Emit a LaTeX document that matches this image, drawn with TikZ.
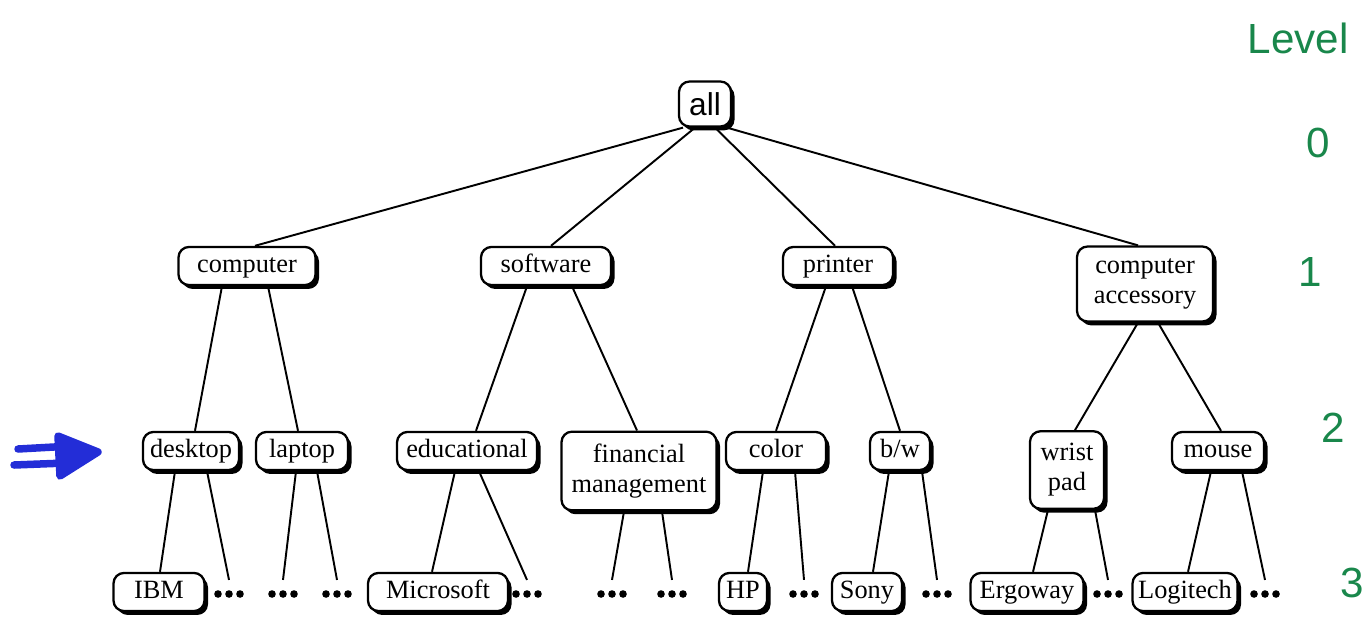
\documentclass[tikz,border=0pt]{standalone}
\usepackage{fontspec}
\setmainfont{Liberation Serif}
\newfontfamily\allfont{Liberation Sans}
\usepackage{tikz}
\usetikzlibrary{shadows}
\definecolor{pengreen}{RGB}{25,135,75}
\definecolor{penblue}{RGB}{35,45,215}
\tikzset{
  cat/.style={draw, line width=1.3pt, rounded corners=6pt, fill=white, align=center,
    font=\fontsize{15}{17}\selectfont, inner xsep=2pt, inner ysep=4pt,
    minimum height=0.76cm, text height=10.5pt, text depth=3.2pt,
    drop shadow={shadow xshift=2pt, shadow yshift=-2.2pt, fill=black, opacity=1}},
  wd/.style={minimum width=#1*0.02cm},
  tall/.style={inner ysep=7pt, text height=, text depth=},
  more/.style={inner sep=0pt, minimum width=0.6cm, minimum height=0.15cm},
  link/.style={line width=1.1pt},
  lvl/.style={text=pengreen, font=\allfont\fontsize{24}{24}\selectfont},
  pen/.style={draw=penblue, fill=penblue, line width=0.15cm, line cap=round, line join=round}
}
\begin{document}
\begin{tikzpicture}[x=0.02cm, y=-0.02cm]
    \useasboundingbox (0,0) rectangle (1372,619);

    % Draw root
    \node[cat, font=\allfont\fontsize{18}{18}\selectfont, wd=52, minimum height=0.9cm,
          text height=13pt, text depth=0pt] (all) at (705,104) {all};

    % Draw level 1 categories
    \node[cat, wd=137] (comp) at (247,266) {computer};
    \node[cat, wd=130] (soft) at (546,266) {software};
    \node[cat, wd=110] (prn) at (838,266) {printer};
    \node[cat, wd=136, tall] (acc) at (1145,284) {computer\\accessory};

    % Draw level 2 categories
    \node[cat, wd=96] (desk) at (191,451) {desktop};
    \node[cat, wd=92] (lap) at (302,451) {laptop};
    \node[cat, wd=140] (edu) at (467,451) {educational};
    \node[cat, wd=155, tall] (fin) at (639,471) {financial\\management};
    \node[cat, wd=100] (col) at (776,451) {color};
    \node[cat, wd=60] (bw) at (900,451) {b/w};
    \node[cat, wd=74, tall] (wrist) at (1067,470) {wrist\\pad};
    \node[cat, wd=92] (mouse) at (1218,451) {mouse};

    % Draw level 3 brands
    \node[cat, wd=91] (ibm) at (159,592) {IBM};
    \node[cat, wd=140] (ms) at (438,592) {Microsoft};
    \node[cat, wd=48] (hp) at (743,592) {HP};
    \node[cat, wd=70] (sony) at (867,592) {Sony};
    \node[cat, wd=113] (ergo) at (1027,592) {Ergoway};
    \node[cat, wd=105] (logi) at (1185,592) {Logitech};

    % Draw the "more" dots
    \foreach \n/\x in {1/229, 2/283, 3/337, 4/527, 5/612, 6/672, 7/804, 8/937, 9/1108, 10/1265} {
        \node[more] (d\n) at (\x,594) {};
        \foreach \k in {-1,0,1}
            \fill ([xshift=\k*0.22cm]d\n.center) circle (3.8);
    }

    % Draw links level 0 -> 1
    \draw[link] ([xshift=-0.44cm]all.south) -- ([xshift=0.16cm]comp.north);
    \draw[link] ([xshift=-0.2cm]all.south) -- ([xshift=0.1cm]soft.north);
    \draw[link] ([xshift=0.2cm]all.south) -- ([xshift=-0.06cm]prn.north);
    \draw[link] ([xshift=0.44cm]all.south) -- ([xshift=-0.14cm]acc.north);

    % Draw links level 1 -> 2
    \draw[link] ([xshift=-0.5cm]comp.south) -- ([xshift=0.08cm]desk.north);
    \draw[link] ([xshift=0.42cm]comp.south) -- ([xshift=-0.08cm]lap.north);
    \draw[link] ([xshift=-0.38cm]soft.south) -- ([xshift=0.18cm]edu.north);
    \draw[link] ([xshift=0.52cm]soft.south) -- ([xshift=-0.04cm]fin.north);
    \draw[link] ([xshift=-0.24cm]prn.south) -- (col.north);
    \draw[link] ([xshift=0.28cm]prn.south) -- (bw.north);
    \draw[link] ([xshift=-0.14cm]acc.south) -- ([xshift=0.16cm]wrist.north);
    \draw[link] ([xshift=0.26cm]acc.south) -- ([xshift=0.06cm]mouse.north);

    % Draw links level 2 -> 3
    \draw[link] ([xshift=-0.32cm]desk.south) -- ([xshift=0.02cm]ibm.north);
    \draw[link] ([xshift=0.32cm]desk.south) -- ([yshift=0.2cm]d1.north);
    \draw[link] ([xshift=-0.12cm]lap.south) -- ([yshift=0.2cm]d2.north);
    \draw[link] ([xshift=0.3cm]lap.south) -- ([yshift=0.2cm]d3.north);
    \draw[link] ([xshift=-0.24cm]edu.south) -- ([xshift=-0.12cm]ms.north);
    \draw[link] ([xshift=0.24cm]edu.south) -- ([yshift=0.2cm]d4.north);
    \draw[link] ([xshift=-0.3cm]fin.south) -- ([yshift=0.2cm]d5.north);
    \draw[link] ([xshift=0.46cm]fin.south) -- ([yshift=0.2cm]d6.north);
    \draw[link] ([xshift=-0.26cm]col.south) -- ([xshift=0.1cm]hp.north);
    \draw[link] ([xshift=0.38cm]col.south) -- ([yshift=0.2cm]d7.north);
    \draw[link] ([xshift=-0.22cm]bw.south) -- ([xshift=0.12cm]sony.north);
    \draw[link] ([xshift=0.44cm]bw.south) -- ([yshift=0.2cm]d8.north);
    \draw[link] ([xshift=-0.38cm]wrist.south) -- ([xshift=0.12cm]ergo.north);
    \draw[link] ([xshift=0.56cm]wrist.south) -- ([yshift=0.2cm]d9.north);
    \draw[link] ([xshift=-0.14cm]mouse.south) -- ([xshift=0.06cm]logi.north);
    \draw[link] ([xshift=0.48cm]mouse.south) -- ([yshift=0.2cm]d10.north);

    % Hand-written level marks
    \node[lvl] (lvlword) at (1298,38) {Level};
    \node[lvl] (lvl0) at (1318,143) {0};
    \node[lvl] (lvl1) at (1310,272) {1};
    \node[lvl] (lvl2) at (1333,428) {2};
    \node[lvl] (lvl3) at (1352,583) {3};

    % Hand-drawn arrow at level 2
    \draw[pen] (18,449) -- (72,446);
    \draw[pen] (14,465) -- (66,463);
    \filldraw[pen] (58,436) -- (98,452) -- (60,476) -- cycle;
\end{tikzpicture}
\end{document}
